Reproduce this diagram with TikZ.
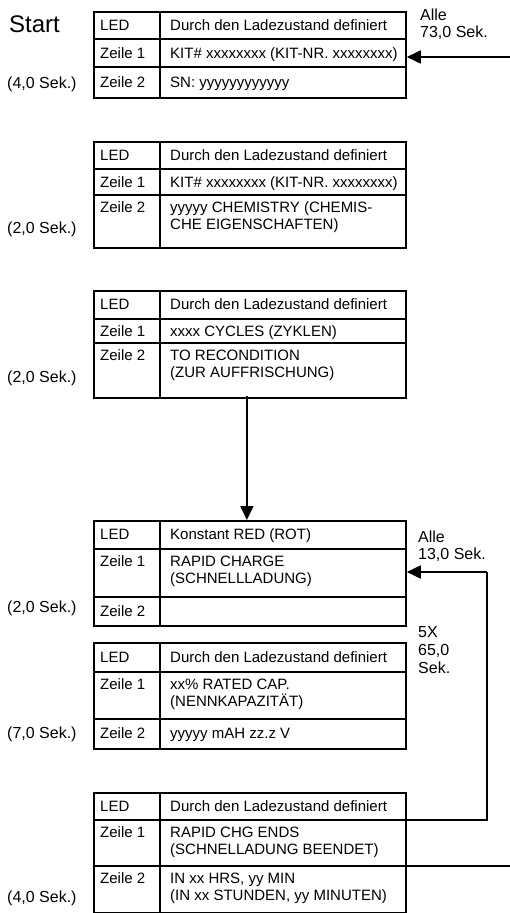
\documentclass[tikz,border=0pt]{standalone}
\usepackage{fontspec}
\setmainfont{Liberation Sans}
\usetikzlibrary{arrows.meta}
\newcommand{\twol}[2]{\vtop{\baselineskip=17pt\hbox{#1}\hbox{#2}}}
\newcommand{\thrl}[3]{\vtop{\baselineskip=18pt\hbox{#1}\hbox{#2}\hbox{#3}}}
% table: name, top, row1, row2, bottom
\newcommand{\tbl}[5]{%
  \node[tblbox, minimum height={(#5)-(#2)}] (#1) at (93,#2) {};
  \draw[tline] (93,#3) -- (405,#3);
  \draw[tline] (93,#4) -- (405,#4);
  \draw[tline] (160,#2) -- (160,#5);
}
\begin{document}
\begin{tikzpicture}[x=1pt,y=-1pt,
  tblbox/.style={draw, line width=1.8pt, anchor=north west, minimum width=312pt, inner sep=0pt},
  tline/.style={line width=1.8pt},
  cell/.style={anchor=base west, inner sep=0pt, font=\fontsize{15}{17}\selectfont},
  side/.style={anchor=base west, inner sep=0pt, font=\fontsize{16}{18}\selectfont},
  arr/.style={line width=1.8pt, -{Triangle[length=14pt,width=13pt]}},
  conn/.style={line width=1.8pt}]
\useasboundingbox (0,0) rectangle (510,913);

% ---------- Table 1
\tbl{t1}{11}{39}{67}{97}
\node[cell] (t1a) at (100,30) {LED};
\node[cell] (t1b) at (170,30) {Durch den Ladezustand definiert};
\node[cell] (t1c) at (100,58) {Zeile 1};
\node[cell] (t1d) at (170,58) {KIT\# xxxxxxxx (KIT-NR. xxxxxxxx)};
\node[cell] (t1e) at (100,87) {Zeile 2};
\node[cell] (t1f) at (170,87) {SN: yyyyyyyyyyyy};
\node[anchor=base west, inner sep=0pt, font=\fontsize{24}{28}\selectfont] (start) at (9,32) {Start};
\node[side] (s1) at (7,88) {(4,0 Sek.)};
\node[side] (r1) at (420,20) {\twol{Alle}{73,0 Sek.}};

% ---------- Table 2
\tbl{t2}{141}{169}{195}{247}
\node[cell] (t2a) at (100,160) {LED};
\node[cell] (t2b) at (170,160) {Durch den Ladezustand definiert};
\node[cell] (t2c) at (100,187) {Zeile 1};
\node[cell] (t2d) at (170,187) {KIT\# xxxxxxxx (KIT-NR. xxxxxxxx)};
\node[cell] (t2e) at (100,212) {Zeile 2};
\node[cell] (t2f) at (170,212) {\twol{yyyyy CHEMISTRY (CHEMIS-}{CHE EIGENSCHAFTEN)}};
\node[side] (s2) at (7,233) {(2,0 Sek.)};

% ---------- Table 3
\tbl{t3}{290}{319}{343}{397}
\node[cell] (t3a) at (100,309) {LED};
\node[cell] (t3b) at (170,309) {Durch den Ladezustand definiert};
\node[cell] (t3c) at (100,336) {Zeile 1};
\node[cell] (t3d) at (170,336) {xxxx CYCLES (ZYKLEN)};
\node[cell] (t3e) at (100,360) {Zeile 2};
\node[cell] (t3f) at (170,360) {\twol{TO RECONDITION}{(ZUR AUFFRISCHUNG)}};
\node[side] (s3) at (7,382) {(2,0 Sek.)};

% ---------- Table 4
\tbl{t4}{520}{549}{597}{625}
\node[cell] (t4a) at (100,539) {LED};
\node[cell] (t4b) at (170,539) {Konstant RED (ROT)};
\node[cell] (t4c) at (100,566) {Zeile 1};
\node[cell] (t4d) at (170,566) {\twol{RAPID CHARGE}{(SCHNELLLADUNG)}};
\node[cell] (t4e) at (100,616) {Zeile 2};
\node[side] (s4) at (7,612) {(2,0 Sek.)};
\node[side] (r4) at (418,542) {\twol{Alle}{13,0 Sek.}};

% ---------- Table 5
\tbl{t5}{642}{672}{719}{748}
\node[cell] (t5a) at (100,662) {LED};
\node[cell] (t5b) at (170,662) {Durch den Ladezustand definiert};
\node[cell] (t5c) at (100,689) {Zeile 1};
\node[cell] (t5d) at (170,689) {\twol{xx\% RATED CAP.}{(NENNKAPAZITÄT)}};
\node[cell] (t5e) at (100,738) {Zeile 2};
\node[cell] (t5f) at (170,738) {yyyyy mAH zz.z V};
\node[side] (s5) at (7,738) {(7,0 Sek.)};
\node[side] (r5) at (418,637) {\thrl{5X}{65,0}{Sek.}};

% ---------- Table 6
\tbl{t6}{792}{820}{866}{912}
\node[cell] (t6a) at (100,811) {LED};
\node[cell] (t6b) at (170,811) {Durch den Ladezustand definiert};
\node[cell] (t6c) at (100,837) {Zeile 1};
\node[cell] (t6d) at (170,837) {\twol{RAPID CHG ENDS}{(SCHNELLADUNG BEENDET)}};
\node[cell] (t6e) at (100,883) {Zeile 2};
\node[cell] (t6f) at (170,883) {\twol{IN xx HRS, yy MIN}{(IN xx STUNDEN, yy MINUTEN)}};
\node[side] (s6) at (7,902) {(4,0 Sek.)};

% ---------- Connectors
\coordinate (in1) at (510,57);
\draw[arr] (in1) -- (t1.east |- in1);

\draw[arr] ([xshift=-3pt, yshift=3pt]t3.south) -- ([xshift=-3pt]t4.north);

\coordinate (lpA) at (487,820);
\coordinate (lpB) at (487,572);
\draw[conn] (t6.east |- lpA) -- (lpA) -- (lpB);
\draw[arr] (lpB) -- (t4.east |- lpB);

\coordinate (out6) at (510,866);
\draw[conn] (t6.east |- out6) -- (out6);
\end{tikzpicture}
\end{document}
